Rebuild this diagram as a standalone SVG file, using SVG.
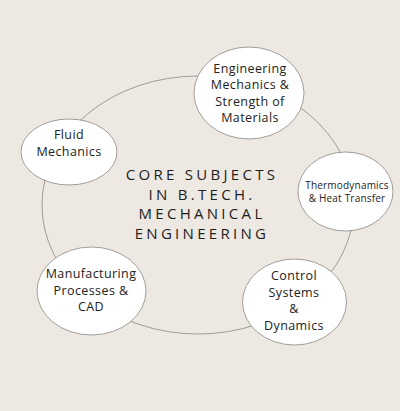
<svg xmlns="http://www.w3.org/2000/svg" width="400" height="411" viewBox="0 0 400 411">
<style>
.n{fill:#fff;stroke:#8a8682;stroke-width:0.8}
.t{font-family:"Open Sans","Noto Sans",sans-serif;font-size:12.5px;fill:#222;text-anchor:middle;letter-spacing:0.4px}
.s{font-size:10px;letter-spacing:0.2px}
.c{font-family:"Open Sans","Noto Sans",sans-serif;font-size:15px;fill:#1e1e1e;text-anchor:middle;letter-spacing:3.3px}
</style>
<rect width="400" height="411" fill="#ede8e2"/>
<g id="connectors">
<ellipse cx="198" cy="205" rx="156" ry="129" fill="none" stroke="#8a8682" stroke-width="0.8"/>
</g>
<g id="center">
<text class="c" x="202" y="180">CORE SUBJECTS</text>
<text class="c" x="202" y="200">IN B.TECH.</text>
<text class="c" x="202" y="219">MECHANICAL</text>
<text class="c" x="202" y="239">ENGINEERING</text>
</g>
<g id="engmech">
<ellipse class="n" cx="249" cy="93" rx="55" ry="46"/>
<text class="t" x="250" y="73">Engineering</text>
<text class="t" x="250" y="89">Mechanics &amp;</text>
<text class="t" x="250" y="106">Strength of</text>
<text class="t" x="250" y="122">Materials</text>
</g>
<g id="fluid">
<ellipse class="n" cx="69" cy="152" rx="48" ry="33"/>
<text class="t" x="69" y="139">Fluid</text>
<text class="t" x="69" y="156">Mechanics</text>
</g>
<g id="thermo">
<ellipse class="n" cx="345.5" cy="191.5" rx="47.5" ry="39.5"/>
<text class="t s" x="347" y="189">Thermodynamics</text>
<text class="t s" x="347" y="202">&amp; Heat Transfer</text>
</g>
<g id="control">
<ellipse class="n" cx="294.5" cy="302" rx="52" ry="43"/>
<text class="t" x="294" y="280">Control</text>
<text class="t" x="294" y="297">Systems</text>
<text class="t" x="294" y="313">&amp;</text>
<text class="t" x="294" y="330">Dynamics</text>
</g>
<g id="manuf">
<ellipse class="n" cx="91.5" cy="291" rx="54.5" ry="44"/>
<text class="t" x="91" y="278">Manufacturing</text>
<text class="t" x="91" y="295">Processes &amp;</text>
<text class="t" x="91" y="311">CAD</text>
</g>
</svg>
